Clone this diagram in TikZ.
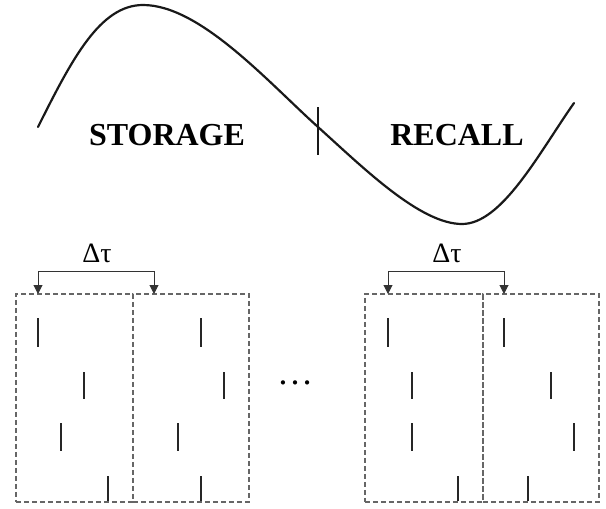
\documentclass[tikz,border=0pt]{standalone}
\usepackage{fontspec}
\setmainfont{Liberation Serif}
\usetikzlibrary{arrows.meta}
\tikzset{
  boxst/.style={draw=black!60, line width=1.8pt, dash pattern=on 5pt off 3pt, inner sep=0pt, anchor=north west, minimum height=208pt},
  spk/.style={line width=2.2pt, black!85},
  brk/.style={line width=1pt, black!80, {Triangle[length=9pt,width=9pt]}-{Triangle[length=9pt,width=9pt]}},
  bigword/.style={font=\fontsize{32}{38}\selectfont\bfseries, inner sep=0pt, anchor=base},
  dtlab/.style={font=\fontsize{28}{32}\selectfont, inner sep=0pt, anchor=base},
}
\begin{document}
\begin{tikzpicture}[x=1pt,y=-1pt]
\useasboundingbox (0,0) rectangle (606,509);
% curve
\coordinate (c0) at (38,127);
\coordinate (cp) at (143,5);
\coordinate (ci) at (318,127);
\coordinate (ct) at (462,224);
\coordinate (ce) at (574,103);
\draw[line width=2.2pt, black!90, line cap=round]
  (c0) .. controls (72,59) and (100,5) .. (cp)
       .. controls (200,5) and (268,82) .. (ci)
       .. controls (363,167.5) and (420,224) .. (ct)
       .. controls (502,224) and (539,153) .. (ce);
\coordinate (mt) at (318,107);
\coordinate (mb) at (318,155);
\draw[line width=1.8pt, black!90] (mt) -- (mb);
\node[bigword] (storage) at (167,145) {STORAGE};
\node[bigword] (recall) at (457,145) {RECALL};
% boxes
\node[boxst, minimum width=117pt] (b1) at (15,293) {};
\node[boxst, minimum width=116pt] (b2) at (132,293) {};
\node[boxst, minimum width=118pt] (b3) at (364,293) {};
\node[boxst, minimum width=116pt] (b4) at (482,293) {};
% brackets
\coordinate (a1) at (38,294);
\coordinate (a2) at (154,294);
\coordinate (a3) at (388,294);
\coordinate (a4) at (504,294);
\draw[brk] (a1) -- ++(0,-23) -| (a2);
\draw[brk] (a3) -- ++(0,-23) -| (a4);
\node[dtlab] (dt1) at (97,262) {Δτ};
\node[dtlab] (dt2) at (447,262) {Δτ};
\node[font=\fontsize{36}{40}\selectfont, inner sep=0pt, anchor=base] (dots) at (295,384) {…};
% spikes box 1
\draw[spk] (38,318) -- (38,347);
\draw[spk] (84,372) -- (84,399);
\draw[spk] (61,423) -- (61,451);
\draw[spk] (108,476) -- (108,501);
% spikes box 2
\draw[spk] (201,318) -- (201,347);
\draw[spk] (224,372) -- (224,399);
\draw[spk] (178,423) -- (178,451);
\draw[spk] (201,476) -- (201,501);
% spikes box 3
\draw[spk] (388,318) -- (388,347);
\draw[spk] (412,372) -- (412,399);
\draw[spk] (412,423) -- (412,451);
\draw[spk] (458,476) -- (458,501);
% spikes box 4
\draw[spk] (504,318) -- (504,347);
\draw[spk] (551,372) -- (551,399);
\draw[spk] (574,423) -- (574,451);
\draw[spk] (528,476) -- (528,501);
\end{tikzpicture}
\end{document}
